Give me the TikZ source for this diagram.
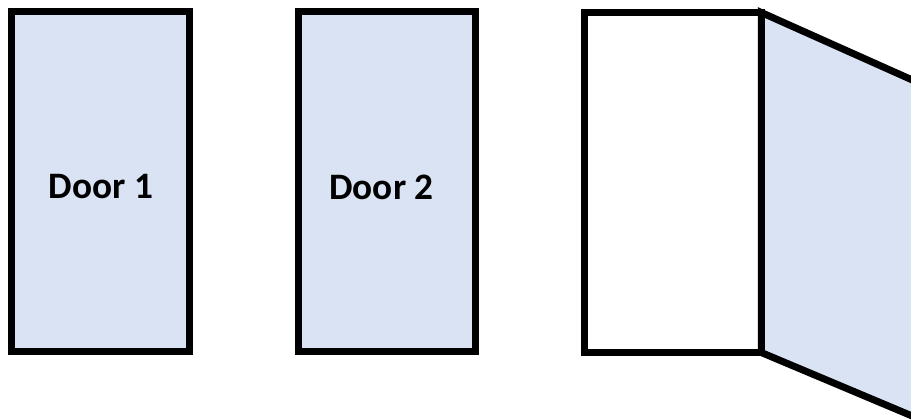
\documentclass[tikz,border=0pt]{standalone}
\usepackage{fontspec}
\setmainfont{Carlito}
\usetikzlibrary{positioning, backgrounds}
\definecolor{doorfill}{HTML}{DAE3F3}
\tikzset{
  door/.style={draw=black, line width=5.25pt, fill=doorfill, outer sep=0pt,
    inner sep=0pt, minimum width=133pt, minimum height=255pt},
  doorlabel/.style={font=\bfseries\fontsize{28}{34}\selectfont}
}

\begin{document}
\begin{tikzpicture}[x=0.75pt, y=-0.75pt]
  \useasboundingbox (0,0) rectangle (911,420);
  % closed doors
  \node[door] (door1) at (100.4,181.2) {};
  \node[door] (door2) at (387.1,181.8) {};
  \node[doorlabel] (lab1) at (101,187) {Door 1};
  \node[doorlabel] (lab2) at (381.5,187) {Door 2};
  % open door: empty frame and swung panel
  \node[door, fill=white] (door3) at (672.8,182.6) {};
  \coordinate (panelTop) at ([shift={(198.5,88.7)}]door3.north east);
  \coordinate (panelBot) at ([shift={(198.5,83.5)}]door3.south east);
  \begin{scope}[on background layer]
    \clip (0,0) rectangle (911,420);
    \fill[doorfill] (door3.north east) -- (panelTop) -- (panelBot) -- (door3.south east) -- cycle;
  \end{scope}
  \begin{scope}
    \clip (0,0) rectangle (911,420);
    \draw[line width=5.25pt] (panelTop) -- (door3.north east) -- (door3.south east) -- (panelBot);
  \end{scope}
\end{tikzpicture}
\end{document}
